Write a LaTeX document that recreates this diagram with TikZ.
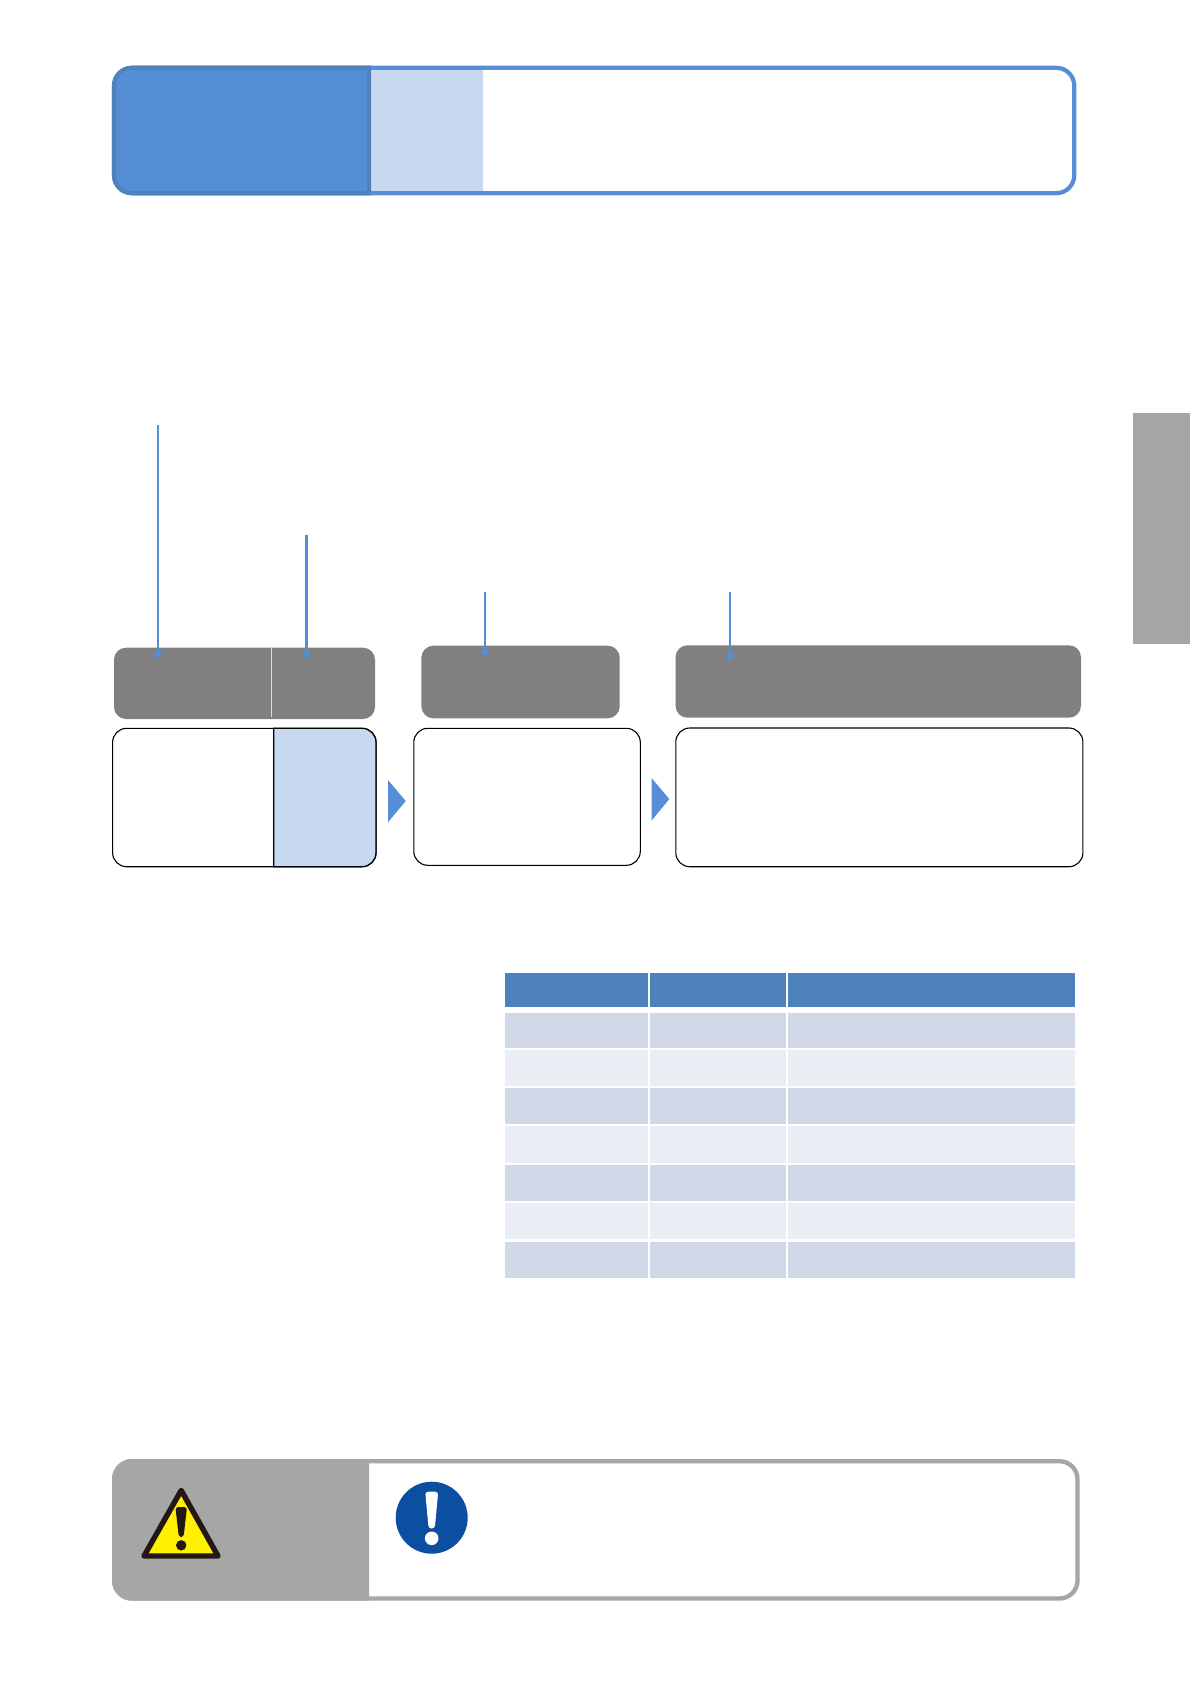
\documentclass[tikz,border=0pt]{standalone}
\definecolor{accent}{HTML}{558ED5}
\definecolor{accentdark}{HTML}{4F81BD}
\definecolor{paleblue}{HTML}{C6D9F1}
\definecolor{headgray}{HTML}{808080}
\definecolor{warngray}{HTML}{A6A6A6}
\definecolor{rowdark}{HTML}{D0D8E8}
\definecolor{rowlight}{HTML}{E9EDF4}
\definecolor{signblack}{HTML}{231815}
\definecolor{signyellow}{HTML}{FFF100}
\definecolor{signblue}{HTML}{0B4EA2}
\tikzset{
  panel/.style={inner sep=0pt,outer sep=0pt,rectangle},
  headbar/.style={panel,fill=headgray,rounded corners=12pt},
  contentbox/.style={panel,draw=black,fill=white,line width=1.1pt,rounded corners=14pt},
  leader/.style={draw=accent,line width=2.4pt},
  leaderdot/.style={circle,fill=accent,inner sep=0pt,minimum size=7.6pt},
  flowmark/.style={fill=accent},
  hcell/.style={panel,fill=accentdark},
  dcell/.style={panel,fill=rowdark},
  lcell/.style={panel,fill=rowlight}
}
% name, style, x1, y1, x2, y2
\newcommand{\pbox}[6]{%
  \pgfmathsetmacro{\pbw}{#5-#3}\pgfmathsetmacro{\pbh}{#6-#4}%
  \node[#2,minimum width=\pbw pt,minimum height=\pbh pt] (#1) at ({(#3+#5)/2},{(#4+#6)/2}) {};}
% row name, style, y1, y2
\newcommand{\trow}[4]{%
  \pbox{#1a}{#2}{505}{#3}{648}{#4}%
  \pbox{#1b}{#2}{650}{#3}{786}{#4}%
  \pbox{#1c}{#2}{788}{#3}{1075}{#4}}
\begin{document}
\begin{tikzpicture}[x=1pt,y=-1pt]
\useasboundingbox (0,0) rectangle (1190,1683);
\fill[white] (0,0) rectangle (1190,1683);

% title banner
\pbox{banner}{panel,draw=accent,fill=white,line width=4.2pt,rounded corners=18pt}{114}{67.8}{1074.3}{193.2}
\fill[paleblue] (369,70) rectangle (483,191);
\draw[accentdark,fill=accent,line width=4.2pt,line join=miter]
  (369,67.8) [rounded corners=18pt] -- (114,67.8) -- (114,193.2) [sharp corners] -- (369,193.2) -- cycle;

% side tab
\pbox{sidetab}{panel,fill=warngray}{1133}{413}{1190}{644}

% grey heading bars
\pbox{bar1}{headbar}{114}{647.7}{375}{719}
\pbox{bar2}{headbar}{421.4}{645.7}{619.7}{718.3}
\pbox{bar3}{headbar}{675.5}{645.3}{1081}{717.7}
\draw[white!75!gray,line width=0.8pt] (271.8,647.7) -- (271.8,717);

% content boxes
\pbox{box1}{contentbox}{112.6}{728.3}{376}{866.7}
\draw[black,fill=paleblue,line width=1.3pt]
  (273.7,728.3) [rounded corners=14pt] -- (376,728.3) -- (376,866.7) [sharp corners] -- (273.7,866.7) -- cycle;
\pbox{box2}{contentbox}{413.8}{728.3}{640.3}{865.3}
\pbox{box3}{contentbox}{675.8}{728}{1082.9}{866.7}

% flow markers
\fill[flowmark] (388,780) -- (405.7,801) -- (388,822.3) -- cycle;
\fill[flowmark] (651.5,778) -- (669.3,799) -- (651.5,820.7) -- cycle;

% leaders
\coordinate (top1) at (157.7,425);
\coordinate (top2) at (306.6,534.5);
\coordinate (top3) at (485,592);
\coordinate (top4) at (730,592.3);
\node[leaderdot] (dot1) at (157.7,654.3) {};
\node[leaderdot] (dot2) at (306.6,654.3) {};
\node[leaderdot] (dot3) at (485,651.7) {};
\node[leaderdot] (dot4) at (730,655.7) {};
\draw[leader] (top1) -- (dot1.center);
\draw[leader] (top2) -- (dot2.center);
\draw[leader] (top3) -- (dot3.center);
\draw[leader] (top4) -- (dot4.center);

% table
\trow{h}{hcell}{973}{1007}
\trow{ra}{dcell}{1013}{1048}
\trow{rb}{lcell}{1050}{1086}
\trow{rc}{dcell}{1088}{1124}
\trow{rd}{lcell}{1126}{1163}
\trow{re}{dcell}{1165}{1201}
\trow{rf}{lcell}{1203}{1239}
\trow{rg}{dcell}{1242}{1278}

% warning panel
\pbox{warn}{panel,draw=warngray,fill=white,line width=4.4pt,rounded corners=18pt}{114.2}{1461.2}{1077.5}{1598.5}
\fill[warngray] (369,1459) [sharp corners] -- (369,1600.7) [rounded corners=20pt] -- (112,1600.7) -- (112,1459) [sharp corners] -- cycle;

% warning triangle
\draw[signblack,fill=signyellow,line width=5.4pt,line join=round]
  (181.2,1490.4) -- (144,1556) -- (218,1556) -- cycle;
\fill[signblack,rounded corners=3pt] (175.4,1507) -- (187,1507) -- (183.6,1537) -- (178.8,1537) -- cycle;
\fill[signblack] (181.2,1545.3) circle (5.2pt);

% mandatory sign
\node[circle,fill=signblue,inner sep=0pt,minimum size=72pt] (mandatory) at (431.7,1517.7) {};
\fill[white,rounded corners=3pt] (425.2,1491.7) -- (438.2,1491.7) -- (434.8,1528.5) -- (428.6,1528.5) -- cycle;
\fill[white] (431.7,1538.3) circle (6.8pt);
\end{tikzpicture}
\end{document}
